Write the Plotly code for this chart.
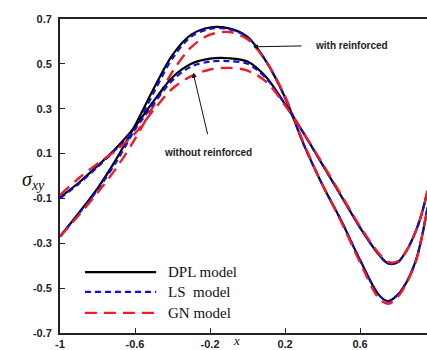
import plotly.graph_objects as go

# Position along the span
x = [-1.0, -0.9, -0.8, -0.7, -0.6, -0.5, -0.4, -0.3, -0.2, -0.1, 0.0, 0.1, 0.2,
     0.3, 0.4, 0.5, 0.6, 0.7, 0.75, 0.8, 0.85, 0.9, 0.93, 0.96]

# Shear stress, reinforced case
wr_dpl = [-0.27, -0.165, -0.055, 0.075, 0.225, 0.39, 0.54, 0.63, 0.662, 0.658, 0.62, 0.51, 0.35,
          0.14, -0.04, -0.20, -0.375, -0.53, -0.558, -0.53, -0.47, -0.37, -0.27, -0.14]
wr_ls = [-0.27, -0.168, -0.062, 0.063, 0.21, 0.372, 0.525, 0.622, 0.656, 0.655, 0.618, 0.51, 0.35,
         0.14, -0.04, -0.20, -0.375, -0.53, -0.56, -0.53, -0.47, -0.37, -0.27, -0.14]
wr_gn = [-0.27, -0.175, -0.075, 0.035, 0.165, 0.315, 0.465, 0.575, 0.63, 0.642, 0.61, 0.51, 0.355,
         0.145, -0.04, -0.205, -0.385, -0.545, -0.57, -0.54, -0.475, -0.375, -0.27, -0.14]

# Shear stress, unreinforced case
wor_dpl = [-0.095, -0.03, 0.045, 0.125, 0.22, 0.335, 0.44, 0.50, 0.523, 0.525, 0.51, 0.44, 0.32,
           0.19, 0.05, -0.09, -0.23, -0.35, -0.39, -0.385, -0.33, -0.24, -0.165, -0.065]
wor_ls = [-0.10, -0.035, 0.04, 0.12, 0.21, 0.323, 0.427, 0.488, 0.51, 0.512, 0.50, 0.435, 0.32,
          0.19, 0.05, -0.09, -0.23, -0.35, -0.39, -0.385, -0.33, -0.24, -0.165, -0.065]
wor_gn = [-0.085, -0.01, 0.055, 0.115, 0.19, 0.295, 0.39, 0.445, 0.475, 0.482, 0.47, 0.42, 0.315,
          0.19, 0.055, -0.085, -0.225, -0.345, -0.383, -0.38, -0.33, -0.24, -0.165, -0.065]

y_ticks = [-0.7, -0.5, -0.3, -0.1, 0.1, 0.3, 0.5, 0.7]
y_labels = ["-0.7", "-0.5", "-0.3", "-0.1", "0.1", "0.3", "0.5", "0.7"]
x_ticks = [-1.0, -0.6, -0.2, 0.2, 0.6, 1.0]
x_labels = ["-1", "-0.6", "-0.2", "0.2", "0.6", "1"]

models = ["DPL model", "LS  model", "GN model"]
styles = [
    dict(color="black", width=2.2, dash="solid"),
    dict(color="#1010e0", width=2.2, dash="6px,4px"),
    dict(color="#ee1c24", width=2.4, dash="12px,7px"),
]

fig = go.Figure()
for series in ([wr_dpl, wr_ls, wr_gn], [wor_dpl, wor_ls, wor_gn]):
    for name, ys, st in zip(models, series, styles):
        fig.add_trace(go.Scatter(x=x, y=ys, mode="lines", name=name, showlegend=False,
                                 line=dict(shape="spline", smoothing=0.9, **st)))

sans = "Liberation Sans, Arial, sans-serif"
serif = "Liberation Serif, Times New Roman, serif"
bold = dict(family=sans, size=11, color="#222", weight="bold")

# Hand-drawn legend in the lower-left corner
legend_y = [0.194, 0.131, 0.064]
for name, st, ly in zip(models, styles, legend_y):
    fig.add_shape(type="line", xref="paper", yref="paper", x0=0.068, x1=0.262, y0=ly, y1=ly,
                  line=dict(color=st["color"], width=st["width"], dash=st["dash"]))
    fig.add_annotation(xref="paper", yref="paper", x=0.29, y=ly, text=name, showarrow=False,
                       xanchor="left", yanchor="middle",
                       font=dict(family=serif, size=15, color="#111"))

# Curve labels with arrows
fig.add_annotation(x=0.029, y=0.576, ax=0.296, ay=0.58, axref="x", ayref="y", text="",
                   showarrow=True, arrowhead=2, arrowsize=1, arrowwidth=1, arrowcolor="#111")
fig.add_annotation(x=0.555, y=0.584, text="with reinforced", showarrow=False,
                   font=dict(family=sans, size=10, color="#222", weight="bold"))
fig.add_annotation(x=-0.29, y=0.46, ax=-0.211, ay=0.18, axref="x", ayref="y", text="",
                   showarrow=True, arrowhead=2, arrowsize=1, arrowwidth=1, arrowcolor="#111")
fig.add_annotation(x=-0.211, y=0.104, text="without reinforced", showarrow=False,
                   font=dict(family=sans, size=10, color="#222", weight="bold"))

# Axis titles
fig.add_annotation(xref="paper", yref="paper", x=-0.11, y=0.487,
                   text="<i>σ</i><sub><i>xy</i></sub>", showarrow=False,
                   font=dict(family=serif, size=20, color="#111"))
fig.add_annotation(xref="paper", yref="paper", x=0.482, y=-0.052, text="<i>x</i>",
                   showarrow=False, yanchor="bottom", borderpad=0,
                   font=dict(family=serif, size=13, color="#111"))

fig.update_layout(
    width=427, height=350,
    margin=dict(l=60, r=0, t=19, b=17),
    paper_bgcolor="white", plot_bgcolor="white",
    xaxis=dict(range=[-1, 0.957], tickvals=x_ticks, ticktext=x_labels, ticks="inside",
               ticklen=5, tickcolor="#222", showline=True, linecolor="#222", linewidth=1.6,
               mirror=True, showgrid=False, zeroline=False, tickfont=bold),
    yaxis=dict(range=[-0.7, 0.7], tickvals=y_ticks, ticktext=y_labels, ticks="inside",
               ticklen=5, tickcolor="#222", showline=True, linecolor="#222", linewidth=1.8,
               showgrid=False, zeroline=False, tickfont=bold, ticklabelstandoff=4),
)

fig.write_html("out.html")
